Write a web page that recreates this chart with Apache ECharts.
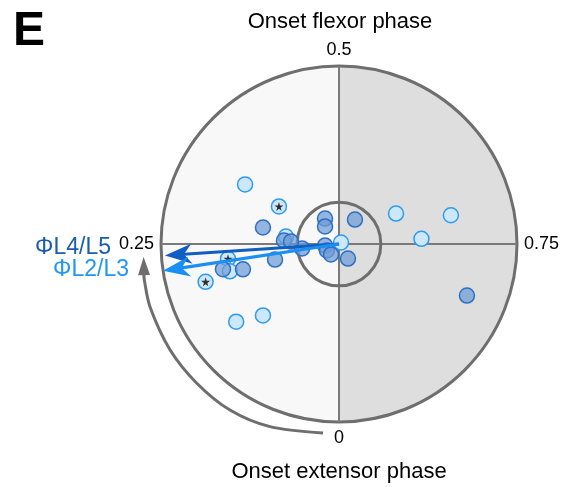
<!DOCTYPE html>
<html><head><meta charset="utf-8">
<script src="https://cdn.jsdelivr.net/npm/echarts@6/dist/echarts.min.js"></script>
<style>html,body{margin:0;padding:0;background:#fff}#c{width:581px;height:487px}</style>
</head><body><div id="c"></div>
<script>
// Angle axis: phase 0..1 (0 bottom, 0.25 left, 0.5 top, 0.75 right)
const phaseTicks = [0, 0.25, 0.5, 0.75];
const tickLabels = ['0', '0.25', '0.5', '0.75'];

// L2/L3 individual points (light blue): vector length and phase
const l2l3Radius = [0.625, 0.398, 0.363, 0.649, 0.464, 0.301, 0.629, 0.632, 0.779, 0.724, 0.586, 0.014];
const l2l3Phase  = [0.340, 0.339, 0.672, 0.710, 0.740, 0.272, 0.229, 0.211, 0.206, 0.147, 0.130, 0.648];

// L4/L5 individual points (darker blue)
const l4l5Radius = [0.163, 0.126, 0.164, 0.096, 0.079, 0.077, 0.074, 0.209, 0.437, 0.310, 0.270, 0.370, 0.667, 0.558, 0.775];
const l4l5Phase  = [0.420, 0.393, 0.592, 0.912, 0.233, 0.171, 0.104, 0.231, 0.284, 0.260, 0.258, 0.212, 0.216, 0.209, 0.811];

// points marked with a star
const starRadius = [0.398, 0.629, 0.779];
const starPhase  = [0.339, 0.229, 0.206];

// mean vectors
const meanL4L5 = [0.98, 0.2395];
const meanL2L3 = [1.0, 0.226];

// significance circle radius
const sigRadius = [0.235];

// curved phase-direction arrow (outside circle)
const arcRadius = [1.066, 1.097, 1.116, 1.118, 1.12, 1.119, 1.112, 1.10];
const arcPhase  = [0.0134, 0.0575, 0.0925, 0.127, 0.161, 0.199, 0.222, 0.2394];

const FONT = 'Liberation Sans, Arial, sans-serif';
const zip = (a, b) => a.map((v, i) => [v, b[i]]);
const starPath = 'path://M50,0 L61,35 L98,35 L68,57 L79,91 L50,70 L21,91 L32,57 L2,35 L39,35 Z';

function arrowRender(color) {
  return function (params, api) {
    const r = api.value(0), th = api.value(1);
    const c = api.coord([0, th]);
    const tip = api.coord([r, th]);
    const dx = tip[0] - c[0], dy = tip[1] - c[1];
    const L = Math.hypot(dx, dy);
    const ux = dx / L, uy = dy / L, nx = -uy, ny = ux;
    const headLen = 27, headW = 10, notch = 8;
    const bx = tip[0] - ux * headLen, by = tip[1] - uy * headLen;
    const np = [tip[0] - ux * (headLen - notch), tip[1] - uy * (headLen - notch)];
    return {
      type: 'group',
      children: [
        { type: 'line', shape: { x1: c[0], y1: c[1], x2: np[0], y2: np[1] },
          style: { stroke: color, lineWidth: 3.2 } },
        { type: 'polygon', shape: { points: [tip, [bx + nx * headW, by + ny * headW], np, [bx - nx * headW, by - ny * headW]] },
          style: { fill: color } }
      ]
    };
  };
}

const chart = echarts.init(document.getElementById('c'), null, { renderer: 'canvas' });
chart.setOption({
  backgroundColor: '#ffffff',
  animation: false,
  polar: { center: [339, 244], radius: 178 },
  angleAxis: {
    type: 'value', min: 0, max: 1, interval: 0.25, startAngle: 270, clockwise: true,
    axisLine: { show: true, lineStyle: { color: '#6e6e6e', width: 3 } },
    axisTick: { show: false },
    axisLabel: {
      show: true, margin: 7, fontSize: 18, color: '#000', fontFamily: FONT,
      formatter: v => { const i = phaseTicks.findIndex(t => Math.abs(t - v) < 1e-6); return i >= 0 ? tickLabels[i] : ''; }
    },
    splitLine: { show: false },
    splitArea: { show: true, areaStyle: { color: ['#f8f8f8', '#f8f8f8', '#dedede', '#dedede'] } }
  },
  radiusAxis: {
    type: 'value', min: 0, max: 1,
    axisLine: { show: false }, axisTick: { show: false }, axisLabel: { show: false }, splitLine: { show: false }
  },
  graphic: [
    { type: 'text', left: 13, top: 8, style: { text: 'E', font: 'bold 48px ' + FONT, fill: '#000' } },
    { type: 'text', x: 340, y: 22, style: { text: 'Onset flexor phase', font: '22px ' + FONT, fill: '#000', textAlign: 'center', textVerticalAlign: 'middle' } },
    { type: 'text', x: 339, y: 472, style: { text: 'Onset extensor phase', font: '22px ' + FONT, fill: '#000', textAlign: 'center', textVerticalAlign: 'middle' } },
    { type: 'text', x: 111, y: 248, style: { text: 'ΦL4/L5', font: '23px ' + FONT, fill: '#1a5dad', textAlign: 'right', textVerticalAlign: 'middle' } },
    { type: 'text', x: 129, y: 270, style: { text: 'ΦL2/L3', font: '23px ' + FONT, fill: '#2196f3', textAlign: 'right', textVerticalAlign: 'middle' } }
  ],
  series: [
    {
      type: 'custom', coordinateSystem: 'polar', silent: true, z: 1,
      data: phaseTicks.map(p => [1, p]),
      renderItem: (params, api) => {
        const c = api.coord([0, api.value(1)]);
        const p = api.coord([api.value(0), api.value(1)]);
        return { type: 'line', shape: { x1: c[0], y1: c[1], x2: p[0], y2: p[1] },
          style: { stroke: '#7a7a7a', lineWidth: 2 } };
      }
    },
    {
      type: 'custom', coordinateSystem: 'polar', silent: true, z: 1,
      data: sigRadius.map(r => [r, 0]),
      renderItem: (params, api) => {
        const c = api.coord([0, 0]);
        const p = api.coord([api.value(0), 0.25]);
        return { type: 'circle', shape: { cx: c[0], cy: c[1], r: Math.hypot(p[0] - c[0], p[1] - c[1]) },
          style: { fill: 'none', stroke: '#6e6e6e', lineWidth: 3 } };
      }
    },
    {
      type: 'custom', coordinateSystem: 'polar', silent: true, z: 1,
      data: [0],
      renderItem: (params, api) => {
        const pts = arcRadius.map((r, i) => api.coord([r, arcPhase[i]]));
        const tip = pts[pts.length - 1];
        const prev = pts[pts.length - 2];
        const dx = tip[0] - prev[0], dy = tip[1] - prev[1], L = Math.hypot(dx, dy);
        const ux = dx / L, uy = dy / L, nx = -uy, ny = ux;
        const hl = 18, hw = 6;
        const bx = tip[0] - ux * hl, by = tip[1] - uy * hl;
        const linePts = pts.slice(0, -1).concat([[bx + ux * 2, by + uy * 2]]);
        return { type: 'group', children: [
          { type: 'polyline', shape: { points: linePts, smooth: 0.3 }, style: { stroke: '#6e6e6e', lineWidth: 3, fill: 'none' } },
          { type: 'polygon', shape: { points: [tip, [bx + nx * hw, by + ny * hw], [bx - nx * hw, by - ny * hw]] }, style: { fill: '#6e6e6e' } }
        ] };
      }
    },
    {
      name: 'L2/L3', type: 'scatter', coordinateSystem: 'polar', z: 3,
      data: zip(l2l3Radius, l2l3Phase), symbolSize: 15,
      itemStyle: { color: '#cde8fd', borderColor: '#2f9bf0', borderWidth: 1.5, opacity: 1 }
    },
    {
      name: 'L4/L5', type: 'scatter', coordinateSystem: 'polar', z: 4,
      data: zip(l4l5Radius, l4l5Phase), symbolSize: 15,
      itemStyle: { color: 'rgba(110,155,215,0.72)', borderColor: '#2e6fc2', borderWidth: 1.5, opacity: 1 }
    },
    {
      name: 'sig', type: 'scatter', coordinateSystem: 'polar', z: 5,
      data: zip(starRadius, starPhase), symbol: starPath, symbolSize: 9,
      itemStyle: { color: '#000' }
    },
    { type: 'custom', coordinateSystem: 'polar', z: 6, silent: true, data: [meanL4L5], renderItem: arrowRender('#0f5ec2') },
    { type: 'custom', coordinateSystem: 'polar', z: 7, silent: true, data: [meanL2L3], renderItem: arrowRender('#1a8ef2') }
  ]
});
</script></body></html>
